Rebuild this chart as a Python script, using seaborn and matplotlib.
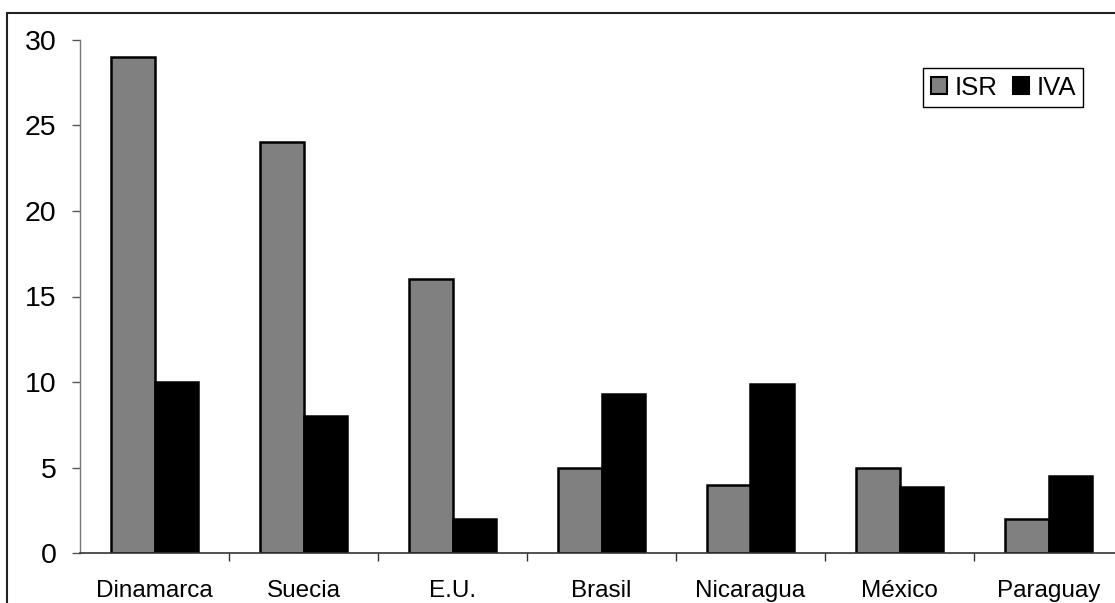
import matplotlib
matplotlib.use("Agg")
import matplotlib.pyplot as plt
from matplotlib.patches import Rectangle
import numpy as np
import pandas as pd
import seaborn as sns

paises = ["Dinamarca", "Suecia", "E.U.", "Brasil", "Nicaragua", "México", "Paraguay"]
isr = [29, 24, 16, 5, 4, 5, 2]
iva = [10, 8, 2, 9.3, 9.9, 3.9, 4.5]
series = ["ISR", "IVA"]
colores = ["#808080", "#000000"]
yticks = [0, 5, 10, 15, 20, 25, 30]

df = pd.DataFrame({
    "pais": paises * 2,
    "impuesto": [series[0]] * len(paises) + [series[1]] * len(paises),
    "valor": isr + iva,
})

sns.set_theme(style="white")
plt.rcParams["font.family"] = ["Liberation Sans", "DejaVu Sans"]
plt.rcParams["text.color"] = "black"
plt.rcParams["xtick.color"] = "black"
plt.rcParams["ytick.color"] = "black"

W, H = 1115, 603
fig = plt.figure(figsize=(W / 100, H / 100), dpi=100)
fig.patch.set_facecolor("white")

# axes box in pixels: left spine at x=80, zero line at y=553, 30 at y=40
left, right, top, bottom = 80, 1123, 39.7, 553.3
ax = fig.add_axes([left / W, (H - bottom) / H, (right - left) / W, (bottom - top) / H])

sns.barplot(data=df, x="pais", y="valor", hue="impuesto", order=paises,
            hue_order=series, palette=colores, width=0.58, ax=ax,
            edgecolor="black", linewidth=1.8, saturation=1, legend=False)

ax.set_ylim(0, 30)
ax.set_xlim(-0.5, len(paises) - 0.5)
ax.set_yticks(yticks)
ax.set_yticklabels([str(v) for v in yticks], fontsize=20.5, color="black")
ax.set_xticks(range(len(paises)))
ax.set_xticklabels(paises, fontsize=17.5, color="black")
ax.set_xticks(np.arange(0.5, len(paises) - 0.5 + 1e-9, 1.0), minor=True)
ax.tick_params(axis="x", which="major", length=0, pad=19)
ax.tick_params(axis="x", which="minor", length=6, width=1, color="#333333", direction="out", bottom=True)
ax.tick_params(axis="y", length=6, width=1, color="#555555", direction="out", pad=11, left=True)
ax.set_xlabel("")
ax.set_ylabel("")
ax.grid(False)

for s in ["top", "right"]:
    ax.spines[s].set_visible(False)
ax.spines["left"].set_color("#777777")
ax.spines["left"].set_linewidth(1.0)
ax.spines["bottom"].set_color("#333333")
ax.spines["bottom"].set_linewidth(1.2)

# legend
handles = [Rectangle((0, 0), 1, 1, facecolor=c, edgecolor="black", linewidth=1.5) for c in colores]
leg = fig.legend(handles, series, loc="upper left",
                 bbox_to_anchor=(923 / W, 1 - 68 / H), ncol=2, fontsize=18.5,
                 frameon=True, fancybox=False, framealpha=1, edgecolor="black",
                 handlelength=0.62, handleheight=0.62, handletextpad=0.3,
                 columnspacing=0.6, borderpad=0.3, borderaxespad=0)
leg.get_frame().set_linewidth(1.0)

# outer chart border
border = Rectangle((7 / W, -0.2), 1.2, (H - 13) / H + 0.2, transform=fig.transFigure,
                   fill=False, edgecolor="#222222", linewidth=1.5, clip_on=False)
fig.patches.append(border)

fig.savefig("out.png", dpi=100, facecolor="white")
